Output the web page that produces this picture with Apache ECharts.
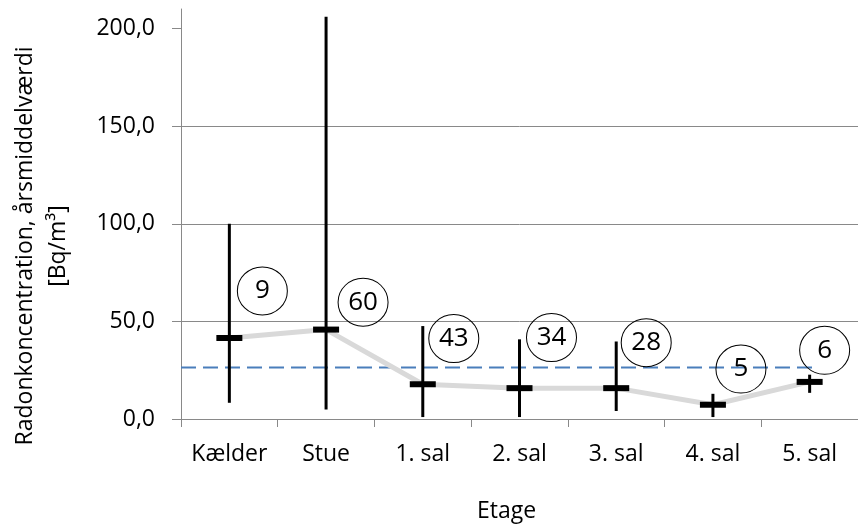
<!DOCTYPE html>
<html>
<head>
<meta charset="utf-8">
<script src="https://cdn.jsdelivr.net/npm/echarts@6/dist/echarts.min.js"></script>
<style>html,body{margin:0;padding:0;background:#fff;}#c{width:858px;height:528px;}</style>
</head>
<body>
<div id="c"></div>
<script>
// ---- data ----
const categories = ['Kælder', 'Stue', '1. sal', '2. sal', '3. sal', '4. sal', '5. sal'];
const meanValues = [41.5, 45.8, 17.8, 15.8, 15.8, 7.3, 19.0];
const minValues  = [8.3, 4.9, 1.0, 1.0, 4.1, 1.0, 13.4];
const maxValues  = [100.0, 206.0, 47.6, 40.8, 39.7, 12.9, 22.7];
const counts     = [9, 60, 43, 34, 28, 5, 6];
const referenceLevel = 26.4;
const yTicks = [0, 50, 100, 150, 200];

// annotation anchors (value-space) for the count circles
const countAnchorY = [65.6, 59.8, 41.2, 41.7, 39.1, 25.6, 35.2];
const countOffsetX = [33, 37, 31, 32, 30, 28, 15];
const refLineEnd = 6.58; // in category-width units from the left edge

const FONT = '"Open Sans", "DejaVu Sans", sans-serif';
const GRID = '#898989';

const chart = echarts.init(document.getElementById('c'), null, {renderer: 'canvas'});

const errData = categories.map((c, i) => [i, minValues[i], maxValues[i], meanValues[i]]);

const option = {
  animation: false,
  backgroundColor: '#fff',
  grid: {left: 181, top: 9, width: 687, height: 413, containLabel: false},
  xAxis: [
    {
      type: 'category',
      data: categories,
      boundaryGap: true,
      axisLine: {show: true, lineStyle: {color: GRID, width: 1}},
      axisTick: {show: true, length: 8, alignWithLabel: false, lineStyle: {color: GRID}},
      axisLabel: {color: '#000', fontSize: 23, fontFamily: FONT, margin: 24, interval: 0},
      splitLine: {show: false},
      name: 'Etage',
      nameLocation: 'middle',
      nameGap: 81,
      nameTextStyle: {color: '#000', fontSize: 23, fontFamily: FONT, padding: [0, 26, 0, 0]}
    },
    {
      type: 'value', min: 0, max: 7, show: false, position: 'bottom'
    }
  ],
  yAxis: {
    type: 'value',
    min: 0, max: 210, interval: 50,
    axisLine: {show: true, lineStyle: {color: GRID, width: 1}},
    axisTick: {show: true, length: 9, inside: false, customValues: yTicks, lineStyle: {color: GRID}},
    axisLabel: {
      color: '#000', fontSize: 23, fontFamily: FONT, margin: 26,
      customValues: yTicks,
      formatter: v => v.toFixed(1).replace('.', ',')
    },
    splitLine: {show: true, showMaxLine: false, lineStyle: {color: GRID, width: 1}}
  },
  graphic: [{
    type: 'text',
    x: 42, y: 246,
    rotation: Math.PI / 2,
    style: {
      text: 'Radonkoncentration, årsmiddelværdi\n[Bq/m³]',
      fill: '#000',
      fontSize: 23,
      fontFamily: FONT,
      align: 'center',
      verticalAlign: 'middle',
      lineHeight: 33
    }
  }],
  series: [
    {
      name: 'ref',
      type: 'line',
      xAxisIndex: 1,
      data: [[0, referenceLevel], [refLineEnd, referenceLevel]],
      symbol: 'none',
      lineStyle: {color: '#4a7ebb', width: 2, type: [15, 7]},
      z: 2
    },
    {
      name: 'mean-line',
      type: 'line',
      data: meanValues,
      symbol: 'none',
      lineStyle: {color: '#d9d9d9', width: 5},
      z: 3
    },
    {
      name: 'err',
      type: 'custom',
      data: errData,
      encode: {x: 0, y: [1, 2, 3]},
      clip: false,
      z: 4,
      renderItem: function (params, api) {
        const i = api.value(0);
        const lo = api.coord([i, api.value(1)]);
        const hi = api.coord([i, api.value(2)]);
        const m = api.coord([i, api.value(3)]);
        return {
          type: 'group',
          children: [
            {type: 'line', shape: {x1: lo[0], y1: lo[1], x2: hi[0], y2: hi[1]},
             style: {stroke: '#000', lineWidth: 3}},
            {type: 'rect', shape: {x: m[0] - 13, y: m[1] - 3, width: 26, height: 6},
             style: {fill: '#000'}}
          ]
        };
      }
    },
    {
      name: 'counts',
      type: 'scatter',
      data: categories.map((c, i) => ({
        value: [i, countAnchorY[i]],
        symbolOffset: [countOffsetX[i], 0]
      })),
      symbol: 'circle',
      symbolSize: [50, 48],
      itemStyle: {color: 'rgba(255,255,255,0)', borderColor: '#000', borderWidth: 1, opacity: 1},
      label: {
        show: true, position: 'inside',
        formatter: p => String(counts[p.dataIndex]),
        color: '#000', fontSize: 26, fontFamily: FONT
      },
      z: 5
    }
  ]
};
chart.setOption(option);
</script>
</body>
</html>
